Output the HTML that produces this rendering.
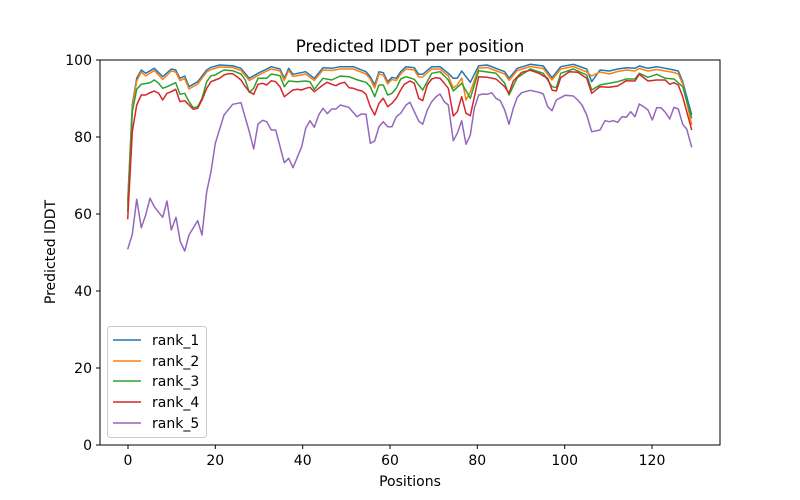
<!DOCTYPE html>
<html><head><meta charset="utf-8"><style>
body{margin:0;background:#fff}
svg{display:block;font-family:"DejaVu Sans","Liberation Sans",sans-serif}
</style></head><body>
<svg width="800" height="500" viewBox="0 0 800 500">
<rect width="800" height="500" fill="#fff"/>
<g fill="none" stroke-width="1.5" stroke-linejoin="round">
<polyline stroke="#1f77b4" points="127.7,201.7 132.3,105 136.7,78.3 141.3,70 145.7,73.3 154.3,68.3 162.7,76.7 171.3,69 175.7,70 180,78.3 184.7,76 189,86.7 197.7,81.7 206.7,70 211,67.3 219.7,65 232.7,65.7 241,68.3 249.3,78.3 258,73.3 266.7,69 271.3,66.7 280,69 284.3,78.3 288.7,68.3 293,74.3 305.7,71.7 314.3,78.3 323,67.7 331.7,68.3 340.3,66.7 353.3,66.7 366,71.7 370.3,76.7 374.7,85 379,71.7 383.3,72.7 387.7,81.7 392,77.3 396.3,78.3 400.7,71.7 406,66.7 414.3,67.7 418.7,74.3 422.7,74.3 431.7,66.7 440,66.7 448.3,73.3 453.3,78.3 457.3,78.3 461.7,71 470.3,82.3 478.7,65.7 487.3,65 504.7,71.7 509,78.3 517.3,68.3 530.3,64.3 543.3,66 552,77.7 560.7,66.7 573.3,64.3 586.7,69 591.7,81.7 600,70 609.3,71 617.7,69 626.3,67.7 635,68.3 639.3,66 648,68.3 656.7,66.7 665.3,68.3 674,70 678.3,71 682.7,81.7 691.7,115"/>
<polyline stroke="#ff7f0e" points="127.7,205 132.3,108 136.7,81 141.3,72 145.7,76 154.3,70.5 162.7,79.5 171.3,71 175.7,72 180,80.5 184.7,78.5 189,89 197.7,84 206.7,72 211,69.5 219.7,67 232.7,67.5 241,70.5 249.3,80.5 258,75.5 266.7,71 271.3,69 280,71 284.3,80.5 288.7,70.5 293,76.5 305.7,74 314.3,80.5 323,70 331.7,70.5 340.3,69 353.3,69 366,74 370.3,79 374.7,88 379,74 383.3,75 387.7,84 392,79.5 396.3,80.5 400.7,74 406,69 414.3,70 418.7,77 422.7,77 431.7,69 440,69 448.3,76 453.3,88 457.3,85 461.7,78 466,100 470.3,92 478.7,68 487.3,67.5 504.7,74 509,80.5 517.3,70.5 530.3,66.5 543.3,68.5 552,80 560.7,69 573.3,66.5 586.7,72 591.7,76 600,72 609.3,74 617.7,71.5 626.3,70 635,71 639.3,68.5 648,71 656.7,69.5 665.3,71 674,72.5 678.3,74 682.7,84 691.7,125"/>
<polyline stroke="#2ca02c" points="127.7,211.7 132.3,111.7 136.7,89.3 141.3,84.3 150,82.7 154.3,80 158.7,83.3 162.7,88.3 167,86.7 175.7,82.7 180,94.3 184.7,93.3 189,101.7 193.3,107.7 197.7,106.7 202,98.3 206.7,81.7 211,75.7 215.3,75 219.7,72.3 224,70 232.7,70.7 241,74 245.3,80 249.3,92.3 253.7,88.3 258,78.3 266.7,78.3 271.3,74 280,75.7 284.3,86.7 288.7,81 297.3,81.7 305.7,81 310,81.7 314.3,89.3 323,78.3 331.7,80 340.3,76 349,76.7 357.7,80 366,82.3 370.3,86.7 374.7,96.7 379,85 383.3,85 387.7,95 392,93.3 396.3,88.3 400.7,79 406,76.7 414.3,79.3 422.7,90 431.7,73.3 440,71.7 448.3,80 453.3,91 461.7,83.3 470.3,98.3 478.7,70.7 496,73.3 504.7,83.3 509,95 517.3,77.7 530.3,69 543.3,73.3 552,86.7 556.3,87.7 560.7,73.3 573.3,69 586.7,75 591.7,90 600,85 609.3,83.3 617.7,81.7 626.3,79 635,79 639.3,73.3 648,77.3 656.7,74.3 665.3,78.3 674,79 682.7,86.7 691.7,118.3"/>
<polyline stroke="#d62728" points="127.7,219.3 132.3,131.7 136.7,105 141.3,95 145.7,95 150,92.7 154.3,91 158.7,93.3 162.7,100 167,93.3 171.3,91.7 175.7,89.3 180,101.7 184.7,100.7 189,105 193.3,109.3 197.7,108.3 202,100 206.7,88.3 211,81.7 215.3,80 219.7,78.3 224,75 228.3,73.7 232.7,73.7 237,76.7 241,80 245.3,86.7 249.3,91.7 253.7,94.3 258,84.3 262.7,83.3 266.7,85 271.3,80.7 275.7,81.7 280,86.7 284.3,96.7 288.7,93.3 293,90 297.3,89.3 301.7,90 305.7,88.3 310,87.3 314.3,91.7 318.7,88.3 323,85 327.3,82.3 331.7,84.3 336,85.7 340.3,83.3 344.7,82.3 349,87.7 353.3,88.3 357.7,90 362,91 366,94.3 370.3,106.7 374.7,115 379,103.3 383.3,98.3 387.7,106.7 392,103.3 396.3,98.3 400.7,90 404.3,84.3 410,81 414.3,83.3 418.7,98.3 422.7,100.7 427.3,85 431.7,79 436,77.7 440,78.3 444.3,83.3 448.3,88.3 453.3,116 457.3,111.7 461.7,96.7 466,113.3 470.3,115.7 478.7,76.7 487.3,77.3 496,79 504.7,86.7 509,93.3 513.3,81 521.7,72.3 530.3,70.3 539,73.3 547.7,78.3 552,90 556.3,91 560.7,77.7 569.3,71.7 577.7,72.3 586.7,78.3 591.7,93.3 600,86.7 609.3,87.3 617.7,86 626.3,80.7 635,81 639.3,74.3 648,81 656.7,80 665.3,80 669.7,84.3 674,82.7 678.3,85 682.7,96.7 691.7,130"/>
<polyline stroke="#9467bd" points="127.7,249.3 132.3,234.3 136.7,199.3 141.3,227.7 145.7,215 150,198.3 154.3,206.7 162.7,217.3 167,201 171.3,230 176,217.3 180.3,241.7 184.7,251 189,235 197.7,220.7 202,235 206.7,191.7 211,171.7 215.3,143.3 224,115 232.7,104.3 241,102.7 249.3,131.7 253.7,149 258,124 262.7,120.3 266.7,121.7 271.3,130 275.7,130 284.3,162.7 288.7,158.3 293,167.7 301.7,146.7 305.7,128.3 310,120.7 314.3,127.3 318.7,115 323,108.3 327.3,113.7 331.7,109 336,109 340.3,105 348.7,107.3 357,116.7 361.3,114 366,114.3 370.3,143.3 374.7,141 379,126.7 383.3,121.7 387.7,126.7 392,126.7 396.3,116.7 400.7,113.3 406,105 410,102.3 414.3,111.7 418.7,121 422.7,124.3 427.3,110 431.7,101.7 436,96.7 440,94 444.3,101.7 448.3,105 453.3,140.7 457.3,133.3 461.7,120.7 466,144.3 470.3,135 474.3,108.3 478.7,95 483.3,94 487.3,94.3 491.7,92.7 496,98.3 500.3,100.7 504.7,110 509,124.3 513.3,108.3 517.3,97.3 521.7,92.7 530.3,90.3 539,92.3 543.3,94 547.7,106.7 552,110.7 556.3,100 560.7,97.7 565,95.3 573.3,96 577.7,100 582,105 586.7,115 591.7,131.7 600,130 605,120.7 609.3,121.7 613.3,120.7 617.7,122.3 622,116.7 626.3,117.3 630.7,111.7 635,116.7 639.3,104 643.7,106.7 648,110 652.3,120 656.7,107.7 661,107.7 665.3,112.3 669.7,119 674,107.3 678.3,109 682.7,124.3 686.7,129 691.7,147.3"/>
</g>
<rect x="100" y="60" width="620" height="385" fill="none" stroke="#000" stroke-width="1"/>
<g stroke="#000" stroke-width="1">
<line x1="128" y1="445" x2="128" y2="449"/><line x1="215.3" y1="445" x2="215.3" y2="449"/><line x1="302.7" y1="445" x2="302.7" y2="449"/><line x1="390" y1="445" x2="390" y2="449"/><line x1="477.3" y1="445" x2="477.3" y2="449"/><line x1="564.7" y1="445" x2="564.7" y2="449"/><line x1="652" y1="445" x2="652" y2="449"/>
<line x1="96" y1="445" x2="100" y2="445"/><line x1="96" y1="368" x2="100" y2="368"/><line x1="96" y1="291" x2="100" y2="291"/><line x1="96" y1="214" x2="100" y2="214"/><line x1="96" y1="137" x2="100" y2="137"/><line x1="96" y1="60" x2="100" y2="60"/>
</g>
<g font-size="14" fill="#000" text-anchor="middle">
<text x="128" y="465">0</text><text x="215.3" y="465">20</text><text x="302.7" y="465">40</text><text x="390" y="465">60</text><text x="477.3" y="465">80</text><text x="564.7" y="465">100</text><text x="652" y="465">120</text>
</g>
<g font-size="14" fill="#000" text-anchor="end">
<text x="92" y="450">0</text><text x="92" y="373">20</text><text x="92" y="296">40</text><text x="92" y="219">60</text><text x="92" y="142">80</text><text x="92" y="65">100</text>
</g>
<text x="410" y="486" font-size="14" text-anchor="middle">Positions</text>
<text transform="translate(55,252) rotate(-90)" font-size="14" text-anchor="middle">Predicted lDDT</text>
<text x="410" y="52" font-size="16.7" text-anchor="middle">Predicted lDDT per position</text>
<rect x="107.5" y="326.5" width="99" height="111" rx="3" fill="#fff" fill-opacity="0.8" stroke="#ccc"/>
<g stroke-width="1.5">
<line x1="113" y1="340" x2="141" y2="340" stroke="#1f77b4"/>
<line x1="113" y1="361" x2="141" y2="361" stroke="#ff7f0e"/>
<line x1="113" y1="381" x2="141" y2="381" stroke="#2ca02c"/>
<line x1="113" y1="402" x2="141" y2="402" stroke="#d62728"/>
<line x1="113" y1="423" x2="141" y2="423" stroke="#9467bd"/>
</g>
<g font-size="14" fill="#000">
<text x="152" y="345">rank_1</text><text x="152" y="366">rank_2</text><text x="152" y="386">rank_3</text><text x="152" y="407">rank_4</text><text x="152" y="428">rank_5</text>
</g>
</svg>
</body></html>
